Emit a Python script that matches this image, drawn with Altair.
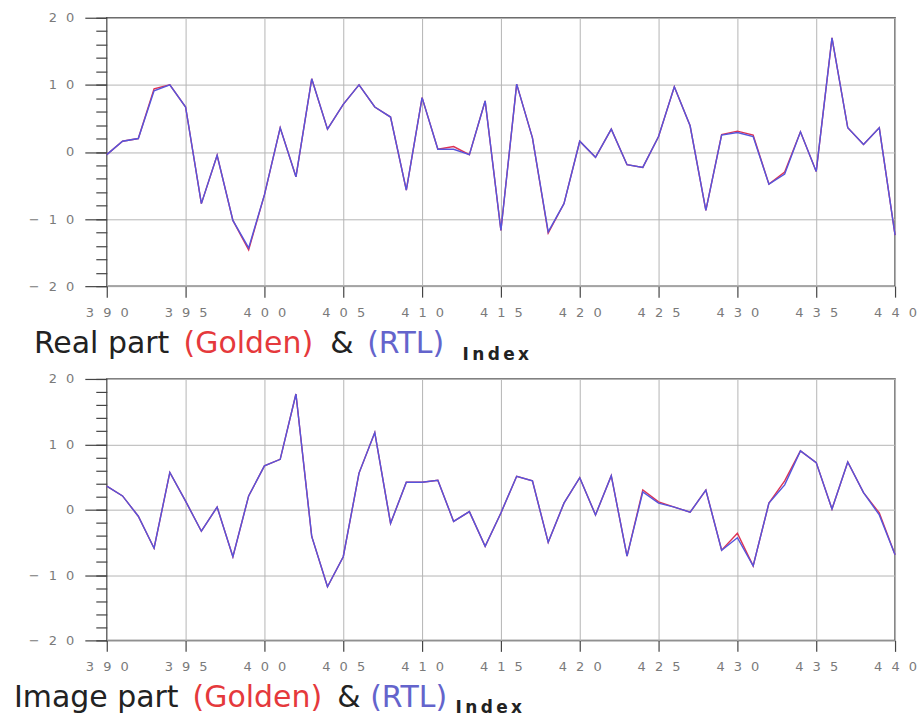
import altair as alt
import pandas as pd

# ---- data ----
index = list(range(390, 441))

real_rtl = [-0.4, 1.6, 2.0, 9.1, 10.0, 6.7, -7.7, -0.5, -10.2, -14.3,
            -6.4, 3.6, -3.7, 10.9, 3.4, 7.1, 10.0, 6.7, 5.2, -5.7,
            8.1, 0.4, 0.4, -0.4, 7.6, -11.7, 10.1, 2.1, -11.9, -7.7,
            1.6, -0.8, 3.4, -1.9, -2.3, 2.3, 9.7, 3.9, -8.7, 2.5,
            2.9, 2.3, -4.8, -3.3, 3.0, -2.9, 17.0, 3.6, 1.1, 3.6,
            -12.4]
real_golden = [-0.4, 1.6, 2.0, 9.4, 10.0, 6.7, -7.7, -0.5, -10.2, -14.6,
               -6.4, 3.6, -3.7, 10.9, 3.4, 7.1, 10.0, 6.7, 5.2, -5.7,
               8.1, 0.4, 0.8, -0.4, 7.6, -11.7, 10.1, 2.1, -12.1, -7.7,
               1.6, -0.8, 3.4, -1.9, -2.3, 2.3, 9.7, 3.9, -8.7, 2.6,
               3.1, 2.5, -4.8, -3.0, 3.0, -2.9, 17.0, 3.6, 1.1, 3.6,
               -12.4]
imag_rtl = [3.6, 2.1, -1.0, -5.9, 5.7, 1.3, -3.3, 0.4, -7.2, 2.1,
            6.7, 7.7, 17.7, -4.1, -11.8, -7.2, 5.6, 11.8, -2.1, 4.2,
            4.2, 4.5, -1.8, -0.3, -5.6, -0.5, 5.1, 4.4, -5.0, 1.0,
            4.9, -0.8, 5.2, -7.1, 2.7, 1.0, 0.4, -0.4, 3.0, -6.2,
            -4.3, -8.6, 1.0, 3.8, 9.0, 7.2, 0.1, 7.3, 2.6, -0.8,
            -6.9]
imag_golden = [3.6, 2.1, -1.0, -5.9, 5.7, 1.3, -3.3, 0.4, -7.2, 2.1,
               6.7, 7.7, 17.7, -4.1, -11.8, -7.2, 5.6, 11.8, -2.1, 4.2,
               4.2, 4.5, -1.8, -0.3, -5.6, -0.5, 5.1, 4.4, -5.0, 1.0,
               4.9, -0.8, 5.2, -7.1, 3.0, 1.2, 0.4, -0.4, 3.0, -6.2,
               -3.6, -8.6, 1.0, 4.4, 9.0, 7.2, 0.1, 7.3, 2.6, -0.5,
               -6.9]

x_ticks = list(range(390, 441, 5))
y_major = [-20, -10, 0, 10, 20]
y_minor = list(range(-20, 21, 2))

real_caption = ["Real part", "(Golden)", "&", "(RTL)"]
imag_caption = ["Image part", "(Golden)", "&", "(RTL)"]
caption_colors = ["#222222", "#e5393c", "#222222", "#6464cc"]
axis_title = "I\u2009n\u2009d\u2009e\u2009x"

RED = "#dd3355"
BLUE = "#5555dd"
W = 790
SPACED = "join(split(datum.label, ''), '\u2002\u2009')"


def panel(rtl_vals, golden_vals, height, caption, cap_x, cap_y, tx, ty, ylab_pad):
    df = pd.DataFrame({"Index": index, "RTL": rtl_vals, "Golden": golden_vals})
    base = alt.Chart(df)
    xenc = alt.X(
        "Index:Q",
        scale=alt.Scale(domain=[390, 440], nice=False, zero=False),
        axis=alt.Axis(values=x_ticks, title=axis_title, grid=True, domain=False,
                      tickSize=11, tickColor="#444444", tickWidth=1.2,
                      labelPadding=9, labelFontSize=13, labelColor="#7a7a7a",
                      labelFont="DejaVu Sans", labelExpr=SPACED, labelFlush=False,
                      titleX=tx, titleY=ty, titleAlign="left",
                      titleBaseline="alphabetic", titleFont="DejaVu Sans",
                      titleFontSize=17, titleFontWeight="bold", titleColor="#222222"),
    )
    yscale = alt.Scale(domain=[-20, 20], nice=False, zero=False)
    gold = base.mark_line(color=RED, strokeWidth=1.4).encode(
        x=xenc,
        y=alt.Y("Golden:Q", scale=yscale,
                axis=alt.Axis(values=y_major, title=None, orient="left", grid=True,
                              domain=False, tickSize=22, tickColor="#444444",
                              tickWidth=1.2, labelPadding=ylab_pad, labelFontSize=13,
                              labelColor="#7a7a7a", labelFont="DejaVu Sans",
                              labelExpr=SPACED)),
    )
    rtl = base.mark_line(color=BLUE, strokeWidth=1.4).encode(
        x=xenc,
        y=alt.Y("RTL:Q", scale=yscale,
                axis=alt.Axis(values=y_minor, title=None, orient="left", grid=False,
                              domain=False, labels=False, tickSize=11,
                              tickColor="#444444", tickWidth=1.2)),
    )
    layers = [gold, rtl]
    for txt, col, px in zip(caption, caption_colors, cap_x):
        t = alt.Chart(pd.DataFrame({"t": [txt]})).mark_text(
            align="left", baseline="alphabetic", font="DejaVu Sans", fontSize=30,
            color=col,
        ).encode(x=alt.value(px), y=alt.value(cap_y), text="t:N")
        layers.append(t)
    return alt.layer(*layers).resolve_axis(y="independent").properties(
        width=W, height=height)


top = panel(real_rtl, real_golden, 269, real_caption,
            [-73, 77, 224, 261], 336, 356, 74, 11)
bottom = panel(imag_rtl, imag_golden, 262, imag_caption,
               [-93, 86, 231, 264], 329, 349, 72, 11)

chart = alt.vconcat(top, bottom, spacing=93, bounds="flush").properties(
    padding={"left": 13, "top": 10, "right": 0, "bottom": 0},
    background="white",
).configure_view(stroke="#555555", strokeWidth=1.5).configure_axis(
    gridColor="#b5b5b5", gridWidth=1
)

chart.save("out.html", embed_options={"renderer": "svg", "actions": False})
